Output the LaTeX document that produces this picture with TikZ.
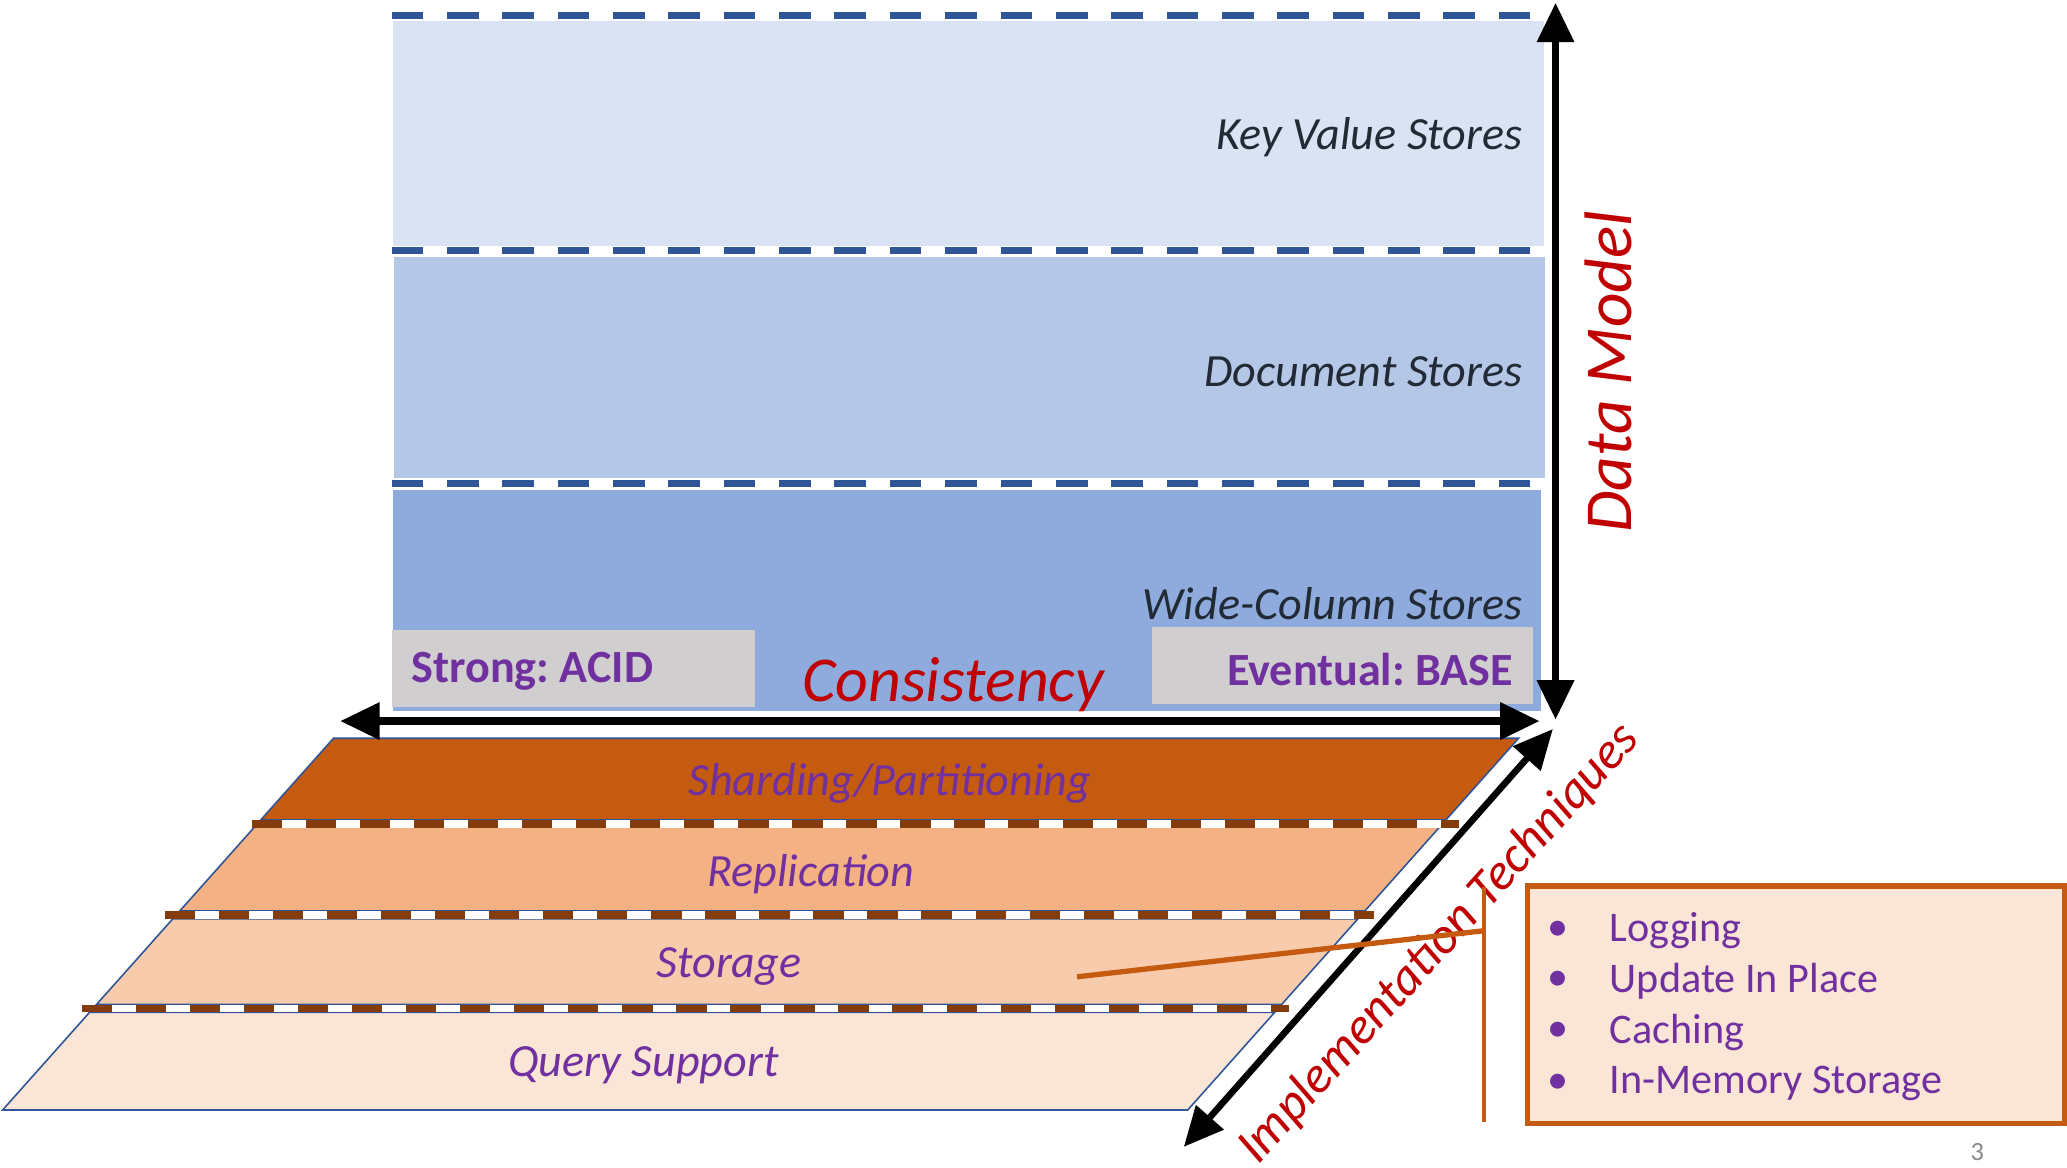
\documentclass[tikz,border=0pt]{standalone}
\usepackage{fontspec}
\setmainfont{Carlito}
\usetikzlibrary{arrows.meta}
\frenchspacing
\definecolor{kvfill}{HTML}{DAE3F3}
\definecolor{docfill}{HTML}{B4C7E7}
\definecolor{widefill}{HTML}{8FAADC}
\definecolor{dashblue}{HTML}{2F5597}
\definecolor{darktext}{HTML}{222A35}
\definecolor{greybox}{HTML}{D0CECE}
\definecolor{purp}{HTML}{7030A0}
\definecolor{redtext}{HTML}{C00000}
\definecolor{shardfill}{HTML}{C55A11}
\definecolor{replfill}{HTML}{F4B183}
\definecolor{storfill}{HTML}{F8CBAD}
\definecolor{queryfill}{HTML}{FBE5D6}
\definecolor{browndash}{HTML}{843C0C}
\definecolor{pagegrey}{HTML}{898989}
\begin{document}
\begin{tikzpicture}[x=1pt,y=-1pt,
  band/.style={draw=white,line width=1.5pt},
  bdash/.style={draw=dashblue,line width=5.5pt,dash pattern=on 24pt off 18pt},
  layer/.style={draw=dashblue,line width=1.2pt},
  divwhite/.style={draw=white,line width=6pt},
  divbrown/.style={draw=browndash,line width=6pt,dash pattern=on 23pt off 18pt},
  storetext/.style={font=\fontsize{35}{42}\selectfont\itshape,text=darktext,inner sep=0pt,anchor=east},
  layertext/.style={font=\fontsize{35}{42}\selectfont\itshape,text=purp,inner sep=0pt},
  axistext/.style={font=\fontsize{51}{58}\selectfont\itshape,text=redtext,inner sep=0pt},
  bigarrow/.style={draw=black,line width=6pt,{Triangle[length=30pt,width=27pt]}-{Triangle[length=30pt,width=27pt]}},
  calloutline/.style={draw=shardfill,line width=4pt},
  bullettext/.style={font=\fontsize{32}{38}\selectfont,text=purp,inner sep=0pt,anchor=west}
]
\useasboundingbox (0,0) rectangle (1568,886);
\fill[white] (0,0) rectangle (1568,886);

% data model bands
\path[band,fill=kvfill] (297,15) rectangle (1172,187);
\path[band,fill=docfill] (298,194) rectangle (1173,363);
\path[band,fill=widefill] (297,371) rectangle (1170,540);
\draw[bdash] (297,12) -- (1172,12);
\draw[bdash] (297,190) -- (1175,190);
\draw[bdash] (297,367) -- (1178,367);

\node[storetext] (kv) at (1155,104) {Key Value Stores};
\node[storetext] (doc) at (1155,282) {Document Stores};
\node[storetext] (wide) at (1155,458) {Wide-Column Stores};

% consistency labels
\path[fill=greybox] (297,478) rectangle (573,536);
\node[font=\fontsize{35}{42}\selectfont\bfseries,text=purp,inner sep=0pt,anchor=west] (acid) at (312,509) {Strong: ACID};
\path[fill=greybox] (874,476) rectangle (1163,534);
\node[font=\fontsize{35}{42}\selectfont\bfseries,text=purp,inner sep=0pt,anchor=east] (base) at (1148,508) {Eventual: BASE};
\node[font=\fontsize{48.5}{56}\selectfont\itshape,text=redtext,inner sep=0pt] (cons) at (723,519) {Consistency};

% implementation layers
\path[layer,fill=shardfill] (253,560) -- (1152,560) -- (1096.8,622) -- (197.8,622) -- cycle;
\path[layer,fill=replfill] (193.4,627) -- (1092.4,627) -- (1035.4,691) -- (136.4,691) -- cycle;
\path[layer,fill=storfill] (131.1,697) -- (1030.1,697) -- (972.2,762) -- (73.2,762) -- cycle;
\path[layer,fill=queryfill] (67.9,768) -- (966.9,768) -- (901,842) -- (2,842) -- cycle;

\draw[divwhite] (191,625) -- (1107,625);
\draw[divbrown] (191,625) -- (1107,625);
\draw[divwhite] (125,694) -- (1042,694);
\draw[divbrown] (125,694) -- (1042,694);
\draw[divwhite] (62,765) -- (978,765);
\draw[divbrown] (62,765) -- (978,765);

\node[layertext] (shard) at (675,594) {Sharding/Partitioning};
\node[layertext] (repl) at (615,663) {Replication};
\node[layertext] (stor) at (553,733) {Storage};
\node[layertext] (query) at (488,808) {Query Support};

% axes
\coordinate (hl) at (258,547);
\coordinate (hr) at (1168,547);
\coordinate (vt) at (1180,2);
\coordinate (vb) at (1180,546);
\coordinate (dt) at (1178,553);
\coordinate (db) at (898,870);
\draw[bigarrow] (hl) -- (hr);
\draw[bigarrow] (vb) -- (vt);
\draw[bigarrow,line width=5pt] (db) -- (dt);

\node[axistext,rotate=90] (dm) at (1220,282) {Data Model};
\node[font=\fontsize{39}{46}\selectfont\itshape,text=redtext,inner sep=0pt,rotate=48] (impl) at (1092,716) {Implementation Techniques};

% callout
\coordinate (cs) at (817,741);
\coordinate (ce) at (1126,706);
\coordinate (vtop) at (1126,673);
\coordinate (vbot) at (1126,851);
\draw[calloutline] (cs) -- (ce);
\draw[draw=shardfill,line width=3pt] (vtop) -- (vbot);
\path[draw=shardfill,line width=4pt,fill=queryfill] (1159,672) rectangle (1566,852);
\foreach \yy/\txt/\nm in {706/Logging/b1,744/Update In Place/b2,783/Caching/b3,822/In-Memory Storage/b4}{
  \node[bullettext] at (1174,\yy) {•};
  \node[bullettext] (\nm) at (1221,\yy) {\txt};
}

\node[font=\fontsize{20}{24}\selectfont,text=pagegrey,inner sep=0pt] (pg) at (1500,874) {3};
\end{tikzpicture}
\end{document}
